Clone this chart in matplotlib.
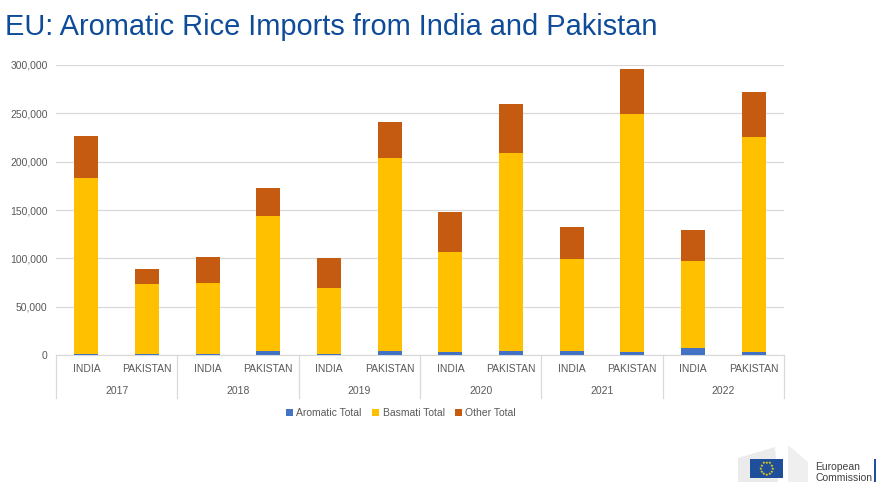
import numpy as np
import matplotlib
matplotlib.use("Agg")
import matplotlib.pyplot as plt
from matplotlib.patches import Rectangle, Polygon

plt.rcParams['font.family'] = ['Liberation Sans', 'DejaVu Sans']

# data
years = ["2017", "2018", "2019", "2020", "2021", "2022"]
countries = ["INDIA", "PAKISTAN"]
aromatic = [1500, 1500, 800, 3800, 1500, 4300, 2900, 4300, 4500, 2800, 6900, 3500]
basmati = [181900, 71600, 73300, 140000, 67600, 199000, 104100, 204500, 94500, 246200, 90000, 221700]
other = [43600, 16300, 26900, 29300, 31000, 38200, 40700, 51000, 33100, 47300, 32800, 47300]
series_names = ["Aromatic Total", "Basmati Total", "Other Total"]
colors = ["#4472C4", "#FFC000", "#C55A11"]
yticks = [0, 50000, 100000, 150000, 200000, 250000, 300000]

W, H = 884, 488
fig = plt.figure(figsize=(W / 100, H / 100), dpi=100)

def fx(px):
    return px / W

def fy(py):
    return 1 - py / H

ax_l, ax_r, ax_t, ax_b = 56, 784, 65, 355
ax = fig.add_axes([fx(ax_l), fy(ax_b), fx(ax_r - ax_l), fy(ax_t) - fy(ax_b)])

def ay(py):
    # pixel row -> axes fraction
    return (ax_b - py) / (ax_b - ax_t)

n = len(years) * len(countries)
x = np.arange(n)
a = np.array(aromatic)
b = np.array(basmati)
o = np.array(other)
bw = 0.4
ax.bar(x, a, bw, color=colors[0], label=series_names[0], zorder=3)
ax.bar(x, b, bw, bottom=a, color=colors[1], label=series_names[1], zorder=3)
ax.bar(x, o, bw, bottom=a + b, color=colors[2], label=series_names[2], zorder=3)

ax.set_xlim(-0.5, n - 0.5)
ax.set_ylim(0, 300000)
ax.set_yticks(yticks)
ax.set_yticklabels([f"{v:,}" for v in yticks], color="#595959", fontsize=7.5)
ax.yaxis.grid(True, color="#D9D9D9", linewidth=0.9, zorder=0)
ax.tick_params(axis="y", length=0, pad=6)
for s in ["top", "right", "left"]:
    ax.spines[s].set_visible(False)
ax.spines["bottom"].set_color("#D9D9D9")
ax.set_xticks([])

# two-level category axis
trans = ax.get_xaxis_transform()
for i in range(n):
    ax.text(x[i], ay(369), countries[i % 2], transform=trans, ha="center", va="center",
            fontsize=7.5, color="#595959")
for j, yr in enumerate(years):
    ax.text(2 * j + 0.5, ay(391), yr, transform=trans, ha="center", va="center",
            fontsize=7.5, color="#595959")
for j in range(len(years) + 1):
    ax.plot([2 * j - 0.5, 2 * j - 0.5], [0, ay(398)], transform=trans, color="#D9D9D9",
            linewidth=0.9, clip_on=False)

# legend
fig.legend(*ax.get_legend_handles_labels(), loc="center", bbox_to_anchor=(fx(401), fy(413)),
           ncol=3, frameon=False, fontsize=7.5, handlelength=0.7, handleheight=0.7,
           handletextpad=0.3, columnspacing=1.0, labelcolor="#595959")

# title
fig.text(fx(5), fy(27), "EU: Aromatic Rice Imports from India and Pakistan", ha="left", va="center",
         fontsize=20.9, color="#0E4C9A")

# European Commission logo (approximation)
fig.patches.append(Polygon([(fx(738), fy(482)), (fx(738), fy(458)), (fx(775), fy(447)), (fx(778), fy(482))],
                           closed=True, transform=fig.transFigure, facecolor="#EBEBEB", edgecolor="none"))
fig.patches.append(Polygon([(fx(788), fy(482)), (fx(788), fy(445)), (fx(808), fy(462)), (fx(808), fy(482))],
                           closed=True, transform=fig.transFigure, facecolor="#EFEFEF", edgecolor="none"))
fig.patches.append(Rectangle((fx(750), fy(478)), fx(33), fy(459) - fy(478), transform=fig.transFigure,
                             facecolor="#1F4E9A", edgecolor="none"))
cx, cy, r = 766.5, 468.5, 6.0
for k in range(12):
    t = 2 * np.pi * k / 12
    fig.text(fx(cx + r * np.cos(t)), fy(cy + r * np.sin(t)), "★", ha="center", va="center",
             fontsize=3, color="#FFDD00", family="DejaVu Sans")
fig.text(fx(815), fy(467), "European", ha="left", va="center", fontsize=7.5, color="#404040")
fig.text(fx(815), fy(478), "Commission", ha="left", va="center", fontsize=7.5, color="#404040")
fig.patches.append(Rectangle((fx(874), fy(482)), fx(2), fy(459) - fy(482), transform=fig.transFigure,
                             facecolor="#1F4E9A", edgecolor="none"))

fig.savefig("out.png", dpi=100)
